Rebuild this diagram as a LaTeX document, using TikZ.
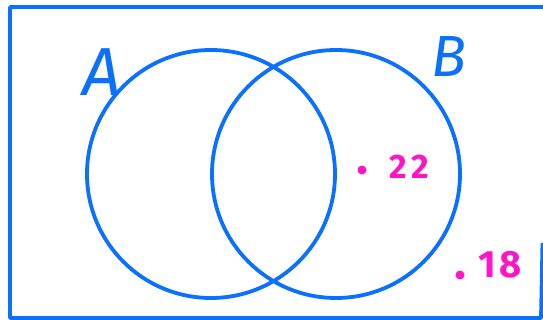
\documentclass[tikz,border=0pt]{standalone}
\usepackage{fontspec}
\setmainfont{Fira Sans}
\definecolor{vblue}{RGB}{10,112,255}
\definecolor{vpink}{RGB}{255,20,200}
\begin{document}
\begin{tikzpicture}[x=1pt,y=-1pt,
  setline/.style={draw=vblue, line width=3.8pt},
  setcirc/.style={setline, circle, minimum size=248pt, inner sep=0pt},
  lbl/.style={text=vblue, inner sep=0pt, font=\fontsize{58}{58}\selectfont\itshape},
  num/.style={text=vpink, inner sep=0pt, font=\fontsize{34}{34}\selectfont\bfseries\addfontfeature{LetterSpace=14}},
  dotm/.style={circle, fill=vpink, inner sep=0pt, minimum size=9pt}]
\useasboundingbox (0,0) rectangle (543,320);
% universal set frame
\coordinate (tr) at (543,7);
\coordinate (tl) at (10,7);
\coordinate (bl) at (10,318);
\coordinate (br) at (541,318);
\coordinate (rt) at (542.5,243);
\draw[setline, line join=round] (tr) -- (tl) -- (bl) -- (br) -- (rt);
% sets
\node[setcirc] (A) at (211,174) {};
\node[setcirc] (B) at (336,174) {};
\node[lbl, font=\fontsize{68}{68}\selectfont\itshape] (la) at (102,72) {A};
\node[lbl] (lb) at (449,57) {B};
% counts
\node[dotm] (d1) at (362,170) {};
\node[num] (n1) at (409,167) {22};
\node[dotm] (d2) at (460,275) {};
\node[num, font=\fontsize{38}{38}\selectfont\bfseries\addfontfeature{LetterSpace=8}] (n2) at (500,265) {18};
\end{tikzpicture}
\end{document}
